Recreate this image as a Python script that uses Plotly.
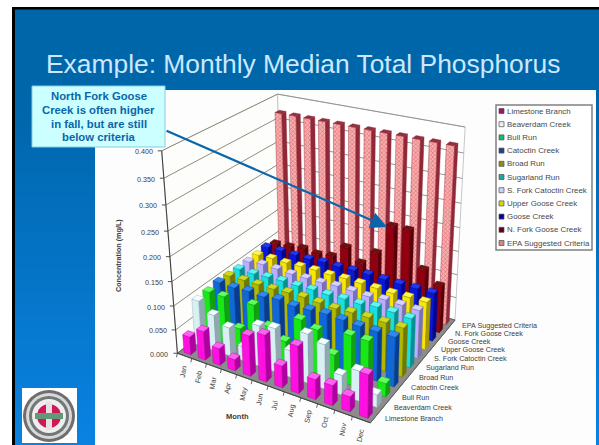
import numpy as np
import plotly.graph_objects as go

months = ["Jan","Feb","Mar","Apr","May","Jun","Jul","Aug","Sep","Oct","Nov","Dec"]
y_ticks = ["0.000","0.050","0.100","0.150","0.200","0.250","0.300","0.350","0.400"]
y_vals = [0,.05,.1,.15,.2,.25,.3,.35,.4]

limestone = [.038,.060,.035,.023,.083,.095,.044,.095,.040,.040,.030,.085]
beaverdam = [.096,.076,.060,.030,.085,.090,.055,.100,.090,.040,.060,.025]
bull_run = [.098,.098,.040,.100,.065,.045,.100,.090,.050,.100,.100,.027]
catoctin = [.102,.100,.102,.100,.104,.100,.102,.104,.102,.100,.100,.100]
broad_run = [.100,.100,.100,.100,.102,.102,.100,.098,.100,.100,.100,.100]
sugarland = [.099,.098,.100,.101,.100,.101,.100,.101,.100,.104,.103,.101]
s_fork = [.100,.103,.102,.100,.100,.100,.102,.101,.099,.102,.101,.100]
upper_goose = [.100,.101,.100,.101,.102,.101,.102,.101,.100,.099,.100,.100]
goose = [.103,.103,.102,.102,.104,.103,.104,.104,.103,.102,.102,.102]
n_fork = [.096,.098,.102,.098,.102,.130,.104,.135,.200,.200,.125,.100]
epa = [.37]*12

series_names = ["Limestone Branch","Beaverdam Creek","Bull Run","Catoctin Creek","Broad Run",
                "Sugarland Run","S. Fork Catoctin Creek","Upper Goose Creek","Goose Creek",
                "N. Fork Goose Creek","EPA Suggested Criteria"]
series_vals = [limestone,beaverdam,bull_run,catoctin,broad_run,sugarland,s_fork,upper_goose,goose,n_fork,epa]
front_cols = ["#FF10E0","#D8F0F4","#18E818","#1068D8","#B0B800","#18E0E0","#B8B0FF","#F8E800","#0818D8","#900010","#F09898"]
side_cols  = ["#B000A0","#90A8B0","#10A010","#083C90","#707800","#089090","#7870B8","#A89800","#000890","#580008","#902838"]
top_cols   = ["#FF60F0","#F4FFFF","#60FF60","#3088F0","#D0D820","#60F4F4","#D8D0FF","#FFF850","#2038F0","#701010","#903040"]
legend_cols= ["#A01070","#F0F0F0","#10C060","#204090","#909010","#20A8A0","#D0D0FF","#D8D800","#0000A0","#600010","#E08080"]

# 3D -> picture projection of the chart box, fitted on its corners
box3 = np.array([[0,0,0],[1,0,0],[1,1,0],[0,1,0],[0,0,1],[1,0,1],[1,1,1],[0,1,1]],float)
box2 = np.array([[177,353],[370,423],[455,320],[283,271],[162,151],[374,199],[465,127],[277,94]],float)
A=[]
for (X,Y,Z),(px,py) in zip(box3,box2):
    A.append([X,Y,Z,1,0,0,0,0,-px*X,-px*Y,-px*Z,-px])
    A.append([0,0,0,0,X,Y,Z,1,-py*X,-py*Y,-py*Z,-py])
P=np.linalg.svd(np.array(A))[2][-1].reshape(3,4)
def proj(u,v,w):
    h=P@np.array([u/12,v/11,w/.4,1.0])
    return h[0]/h[2],h[1]/h[2]

fig=go.Figure()
def poly(pts,fill,line=None,lw=0.5,pattern=None):
    xs=[p[0] for p in pts]+[pts[0][0]]
    ys=[p[1] for p in pts]+[pts[0][1]]
    kw=dict(fillpattern=pattern) if pattern else {}
    fig.add_trace(go.Scatter(x=xs,y=ys,mode="lines",fill="toself",fillcolor=fill,
        line=dict(color=line or fill,width=lw),hoverinfo="skip",showlegend=False,**kw))
def seg(a,b,col,lw=1):
    fig.add_trace(go.Scatter(x=[a[0],b[0]],y=[a[1],b[1]],mode="lines",
        line=dict(color=col,width=lw),hoverinfo="skip",showlegend=False))

# walls and floor
poly([proj(0,0,0),proj(0,11,0),proj(0,11,.4),proj(0,0,.4)],"#FDFDFB","#C8C8C8",0.8)
poly([proj(0,11,0),proj(12,11,0),proj(12,11,.4),proj(0,11,.4)],"#FFFFFF","#B8B8B8",0.8)
for w in y_vals:
    seg(proj(0,0,w),proj(0,11,w),"#84806C",0.9)
    seg(proj(0,11,w),proj(12,11,w),"#8C8C8C",0.9)
poly([proj(0,0,0),proj(12,0,0),proj(12,11,0),proj(0,11,0)],"#8C8C8C","#555555",0.8)

# bars, back to front
HU=0.24
HV=0.24
for s in range(10,-1,-1):
    pat=dict(shape="x",fgcolor="#D84048",bgcolor="#F6B0B0",size=3,solidity=0.45) if s==10 else None
    for m in range(12):
        val=series_vals[s][m]
        uc,vc=m+.5,s+.5
        u0,u1,v0,v1=uc-HU,uc+HU,vc-HV,vc+HV
        poly([proj(u0,v0,0),proj(u1,v0,0),proj(u1,v0,val),proj(u0,v0,val)],front_cols[s],side_cols[s],0.4,pat)
        poly([proj(u1,v0,0),proj(u1,v1,0),proj(u1,v1,val),proj(u1,v0,val)],side_cols[s],side_cols[s],0.4)
        poly([proj(u0,v0,val),proj(u1,v0,val),proj(u1,v1,val),proj(u0,v1,val)],top_cols[s],side_cols[s],0.4)

# axis lines and ticks
seg(proj(0,0,0),proj(0,0,.4),"#404040",1.1)
seg(proj(0,0,0),proj(12,0,0),"#404040",0.9)
seg(proj(12,0,0),proj(12,11,0),"#606060",0.9)
anns=[]
def note(x,y,t,size=7.5,anchor="center",angle=0,bold=False,color="#3C3C3C"):
    anns.append(dict(x=x,y=y,xref="x",yref="y",text=("<b>%s</b>"%t) if bold else t,showarrow=False,
        xanchor=anchor,yanchor="middle",textangle=angle,
        font=dict(family="Liberation Sans, Arial, sans-serif",size=size,color=color)))
for w,t in zip(y_vals,y_ticks):
    p=proj(0,0,w)
    seg((p[0]-4,p[1]),p,"#404040",0.9)
    note(p[0]-7,p[1]+1,t,7.2,"right")
for i,t in enumerate(months):
    a=proj(i,0,0)
    seg(a,(a[0]-1,a[1]+4),"#404040",0.8)
    p=proj(i+.5,0,0)
    note(p[0]-1,p[1]+16,t,7.2,angle=-80)
for s,t in enumerate(series_names):
    p=proj(12,s+.5,0)
    note(p[0]+8,p[1]+1,t,7.2,"left")
note(118,256,"Concentration (mg/L)",7.2,angle=-90,bold=True)
note(237,416,"Month",7.5,bold=True)

# legend
for s,(n,c) in enumerate(zip(series_names,legend_cols)):
    y=111+13.2*s
    fig.add_trace(go.Scatter(x=[501.5],y=[y],mode="markers",marker=dict(symbol="square",size=5,color=c,
        line=dict(color="#505050",width=0.7)),hoverinfo="skip",showlegend=False))
    note(505,y,n,7.9,"left",color="#484848")

# title and callout
note(303,64,"Example: Monthly Median Total Phosphorus",26.4,color="#CCE8FF")
shapes=[]
def rect(x0,y0,x1,y1,fill,line=None,lw=0,layer="below",kind="rect"):
    shapes.append(dict(type=kind,xref="x",yref="y",x0=x0,y0=y0,x1=x1,y1=y1,fillcolor=fill,layer=layer,
        line=dict(color=line or fill,width=lw)))
# slide background
rect(12,7,599,445,"#0066AA")
n=30
c0=np.array([0,0x66,0xAA]); c1=np.array([0x0A,0x82,0xE2])
for i in range(n):
    t=i/(n-1); c=(c0+(c1-c0)*t).astype(int)
    y0=90+(445-90)*i/n
    rect(15,y0,599,y0+(445-90)/n+1,"rgb(%d,%d,%d)"%tuple(c))
rect(12,7,15,445,"#000000")
rect(12,7,599,9.5,"#000000")
rect(95,90,596,445,"#FDFDFD")
rect(496,105,592,250,"#FFFFFF","#808080",1.5)
# logo
rect(22,388,77,443,"#FFFFFF")
rect(23,390,75,442,"#6E6E6E",kind="circle")
rect(26,393,72,439,"#D8D8D8",kind="circle")
rect(29,396,69,436,"#707878",kind="circle")
rect(32,399,66,433,"#EEEEEE",kind="circle")
rect(37,404,61,428,"#D01858",kind="circle")
rect(46,402,52,430,"#E8E0E0")
rect(35,413,63,419,"#609878")
# callout
rect(32,86,165,147,"#CCFFFF","#88CCE0",1,"above")
for t,y in zip(["North Fork Goose","Creek is often higher","in fall, but are still","below criteria"],[96,110,124,137]):
    note(98.5,y,t,11.3,bold=True,color="#0A66AA")
anns.append(dict(x=387,y=227,ax=165,ay=130,xref="x",yref="y",axref="x",ayref="y",text="",showarrow=True,
    arrowhead=2,arrowsize=1.5,arrowwidth=2.2,arrowcolor="#0A66AA",standoff=0,startstandoff=0))

fig.update_layout(width=599,height=445,margin=dict(l=0,r=0,t=0,b=0),paper_bgcolor="#FFFFFF",plot_bgcolor="#FFFFFF",
    showlegend=False,shapes=shapes,annotations=anns,
    xaxis=dict(range=[0,599],visible=False,fixedrange=True),
    yaxis=dict(range=[445,0],visible=False,fixedrange=True))
fig.write_html("out.html",config=dict(displayModeBar=False),
    post_script="document.body.style.margin='0';document.body.style.overflow='hidden';")
